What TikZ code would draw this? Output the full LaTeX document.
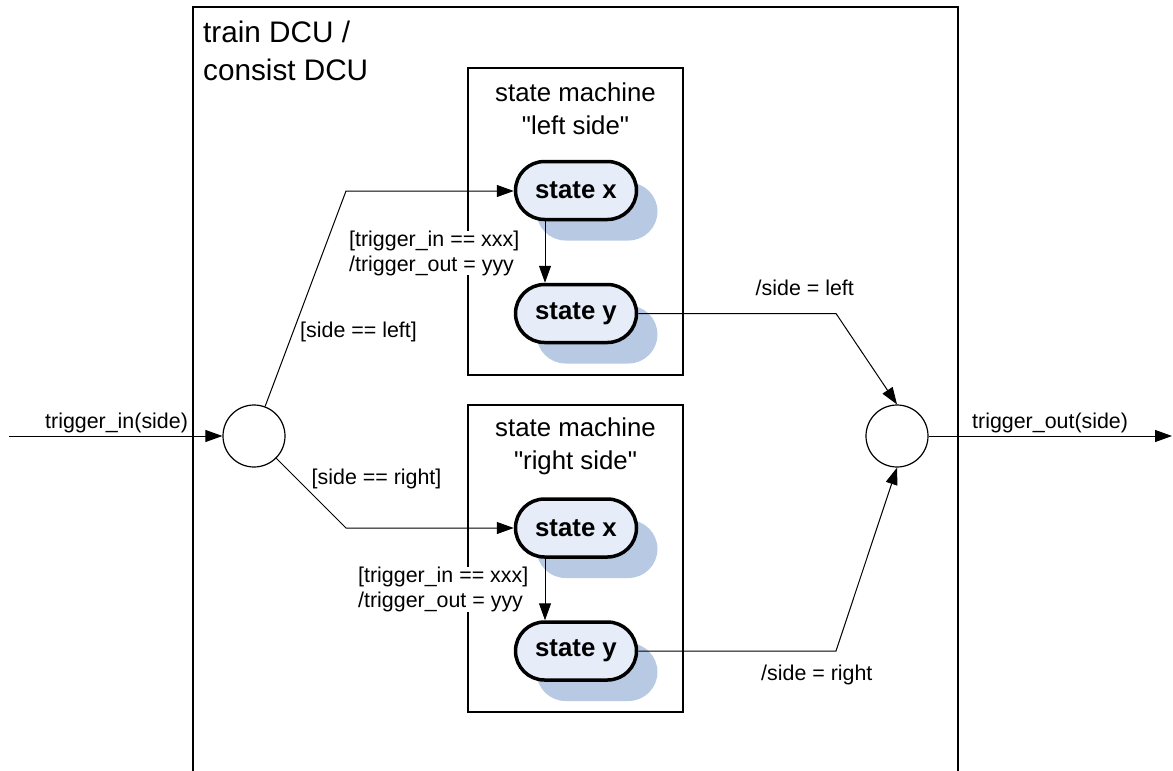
\documentclass[tikz,border=0pt]{standalone}
\usepackage{fontspec}
\setmainfont{Liberation Sans}
\usetikzlibrary{arrows.meta,shadows}
\definecolor{statefill}{HTML}{E6EDF8}
\definecolor{shadowblue}{HTML}{B8CAE3}
\tikzset{
  box/.style={draw, line width=1.2pt},
  conn/.style={draw, line width=1pt},
  arr/.style={conn, -{Triangle[length=17pt,width=12pt]}},
  statenode/.style={draw, line width=3.5pt, fill=statefill, rounded corners=29pt,
    minimum width=121pt, minimum height=58pt, inner sep=0pt,
    font=\fontsize{25.8}{30}\selectfont\bfseries,
    drop shadow={shadow xshift=21pt, shadow yshift=-21pt, fill=shadowblue, opacity=1}},
  junction/.style={draw, circle, line width=1.2pt, minimum size=62pt, inner sep=0pt, fill=white},
  lbl/.style={inner sep=0pt, fill=white, anchor=west, align=left, font=\fontsize{21.4}{25}\selectfont},
  title/.style={inner sep=0pt, align=center, font=\fontsize{25.8}{32.5}\selectfont},
}
\begin{document}
\begin{tikzpicture}[x=1pt,y=-1pt]
\useasboundingbox (0,0) rectangle (1173,771);
% outer box (bottom is cut off)
\draw[box] (193,775) -- (193,7) -- (958,7) -- (958,775);
\node[inner sep=0pt, anchor=west, align=left, font=\fontsize{29.7}{38}\selectfont] (dcu) at (203,51) {train DCU /\\consist DCU};
% state machine boxes
\draw[box] (468,68) rectangle (683,375);
\draw[box] (468,405) rectangle (683,712);
\node[title] (t1) at (575.5,109) {state machine\\\textquotedbl left side\textquotedbl};
\node[title] (t2) at (575.5,446.5) {state machine\\\textquotedbl right side\textquotedbl};
% states
\node[statenode] (sx1) at (576,190.5) {state x};
\node[statenode] (sy1) at (576,313.5) {state y};
\node[statenode] (sx2) at (576,528) {state x};
\node[statenode] (sy2) at (576,651) {state y};
% junctions
\node[junction] (lc) at (254,436) {};
\node[junction] (rc) at (897,436) {};
% coordinates
\coordinate (in) at (9,436);
\coordinate (out) at (1172,436);
\coordinate (b1) at (346,191);
\coordinate (b2) at (346,528);
\coordinate (b3) at (836,313.5);
\coordinate (b4) at (836,651);
% connectors
\draw[arr] (in) -- (lc);
\draw[arr] (rc) -- (out);
\draw[arr] (lc) -- (b1) -- (sx1.west |- b1);
\draw[arr] (lc) -- (b2) -- (sx2.west);
\draw[arr] ([xshift=-31pt]sx1.south) -- ([xshift=-31pt]sy1.north);
\draw[arr] ([xshift=-31pt]sx2.south) -- ([xshift=-31pt]sy2.north);
\draw[arr] (sy1.east) -- (b3) -- (rc.north);
\draw[arr] (sy2.east) -- (b4) -- (rc.south);
% labels
\node[lbl] (l1) at (349,253) {[trigger\_in == xxx]\\/trigger\_out = yyy};
\node[lbl] (l2) at (358,589.5) {[trigger\_in == xxx]\\/trigger\_out = yyy};
\node[lbl] (l3) at (300,331.5) {[side == left]};
\node[lbl] (l4) at (311.5,479) {[side == right]};
\node[lbl] (l5) at (755.5,287.5) {/side = left};
\node[lbl] (l6) at (761,674.5) {/side = right};
\node[lbl, fill=none] (l7) at (45,423) {trigger\_in(side)};
\node[lbl, fill=none] (l8) at (972,423) {trigger\_out(side)};
\end{tikzpicture}
\end{document}
